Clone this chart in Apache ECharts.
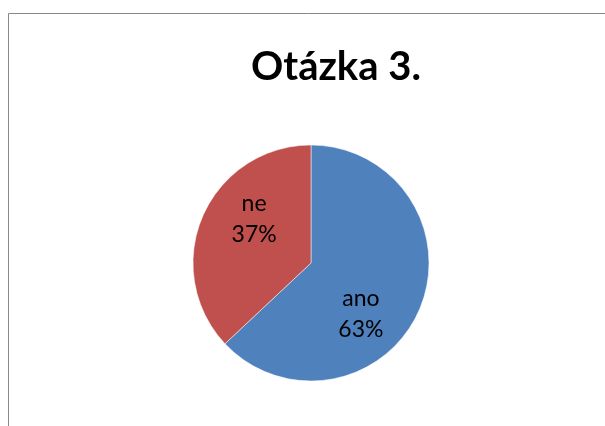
<!DOCTYPE html>
<html>
<head>
    <meta charset="utf-8">
    <title>Otázka 3.</title>
    <style>
        html, body { margin: 0; padding: 0; background: #fff; overflow: hidden; }
        #chart { width: 605px; height: 426px; }
    </style>
</head>
<body>
    <div id="chart"></div>
    <script src="https://cdn.jsdelivr.net/npm/echarts@6/dist/echarts.min.js"></script>
    <script>
        // data
        var categories = ['ano', 'ne'];
        var values = [63, 37];
        var colors = ['#4F81BD', '#C0504D'];
        // label nudges so they sit where Excel put them
        var labelOffsets = [[-7, 26], [0, -19]];

        var chart = echarts.init(document.getElementById('chart'));

        var pieData = categories.map(function (name, i) {
            return {
                name: name,
                value: values[i],
                itemStyle: { color: colors[i] },
                label: { offset: labelOffsets[i] }
            };
        });

        var option = {
            animation: false,
            backgroundColor: '#fff',
            title: {
                text: 'Otázka 3.',
                left: 331,
                top: 42,
                textAlign: 'center',
                textStyle: {
                    fontFamily: 'Lato',
                    fontWeight: 'bold',
                    fontSize: 40,
                    color: '#000'
                }
            },
            // chart frame: only top and left edges fall inside the picture
            graphic: [{
                type: 'polyline',
                shape: { points: [[8.5, 440], [8.5, 13.5], [640, 13.5]] },
                style: { fill: 'none', stroke: '#888', lineWidth: 1 },
                silent: true
            }],
            series: [{
                type: 'pie',
                center: [311, 263],
                radius: 118,
                startAngle: 90,
                clockwise: true,
                itemStyle: { borderColor: '#fff', borderWidth: 0.5 },
                label: {
                    show: true,
                    position: 'inside',
                    formatter: function (p) { return p.name + '\n' + Math.round(p.percent) + '%'; },
                    fontFamily: 'Lato',
                    fontSize: 23,
                    lineHeight: 31,
                    color: '#000'
                },
                labelLine: { show: false },
                emphasis: { disabled: true },
                data: pieData
            }]
        };

        chart.setOption(option);
    </script>
</body>
</html>
